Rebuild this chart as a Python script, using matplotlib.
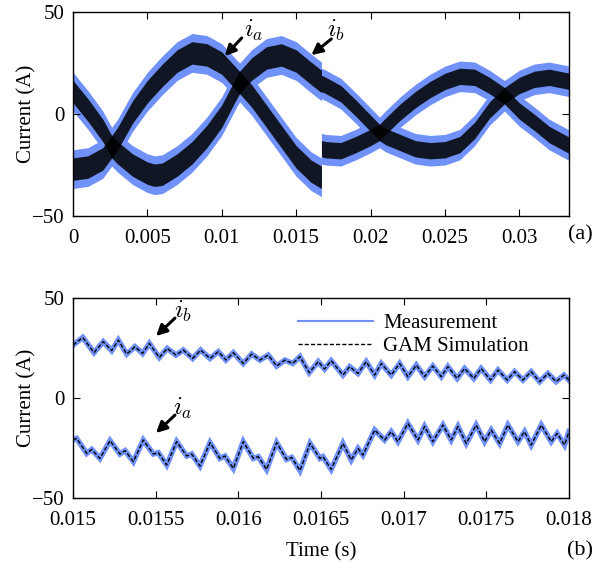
import matplotlib
matplotlib.use("Agg")
import matplotlib.pyplot as plt
from matplotlib.lines import Line2D

plt.rcParams['font.family'] = ['Liberation Serif', 'DejaVu Serif']
plt.rcParams['mathtext.fontset'] = 'cm'
plt.rcParams['font.size'] = 15

# ---- panel (a): full two-period view, ripple envelopes
t_top = [0, 0.001, 0.002, 0.0026, 0.003, 0.004, 0.005, 0.0055, 0.006, 0.007,
         0.008, 0.009, 0.010, 0.011, 0.0112, 0.012, 0.013, 0.014, 0.015, 0.016,
         0.0167, 0.0167, 0.017, 0.018, 0.019, 0.020, 0.0206, 0.021, 0.022, 0.023,
         0.024, 0.025, 0.026, 0.027, 0.028, 0.029, 0.030, 0.031, 0.032, 0.0334]
ia_top = [-27, -26, -22, -16, -12, 1, 11, 15, 19, 26,
          30, 29, 25, 17, 15.5, 9, -1, -11, -21, -28,
          -31, -17, -17.5, -18, -15, -11.5, -9, -6, 1, 7,
          12, 16, 18.5, 18, 14, 9, 1.5, -4, -10, -15.5]
ib_top = [11, 2, -8, -16, -19, -25, -29, -30, -29.5, -25,
          -19, -11, -1, 13, 15.5, 22, 27.5, 29, 26, 20,
          16, 15, 14, 10, 3, -4.5, -9, -11, -14, -17,
          -18, -17.5, -15, -8, 2, 9, 14, 17, 18, 16]
# ripple half widths (A): measurement and simulation
meas_hw = [9.5] * 21 + [7.5] * 19
sim_hw = [5.5] * 21 + [4.0] * 19

# ---- panel (b): zoom 0.015-0.018 s, ripple peaks/troughs of the simulation
ib_t = [0.015000, 0.015059, 0.015127, 0.015183, 0.015234, 0.015274, 0.015325, 0.015375, 0.015421, 0.015462,
        0.015522, 0.015570, 0.015623, 0.015667, 0.015724, 0.015772, 0.015829, 0.015879, 0.015925, 0.015970,
        0.016030, 0.016081, 0.016131, 0.016181, 0.016232, 0.016282, 0.016329, 0.016373, 0.016429, 0.016484,
        0.016522, 0.016562, 0.016633, 0.016674, 0.016724, 0.016774, 0.016825, 0.016865, 0.016925, 0.016976,
        0.017026, 0.017077, 0.017127, 0.017177, 0.017228, 0.017268, 0.017324, 0.017369, 0.017425, 0.017469,
        0.017526, 0.017571, 0.017627, 0.017672, 0.017722, 0.017772, 0.017823, 0.017873, 0.017923, 0.017970,
        0.018000]
ib_sim = [26.5, 30.3, 22.7, 28.2, 23.7, 29.0, 22.0, 25.7, 22.3, 27.3,
          20.3, 24.8, 21.5, 24.0, 19.8, 24.0, 19.8, 23.2, 19.0, 22.7,
          17.3, 22.0, 19.0, 21.5, 16.0, 19.0, 17.3, 20.7, 12.7, 18.2,
          14.5, 18.7, 11.5, 15.7, 12.3, 18.2, 11.5, 17.3, 11.5, 17.3,
          10.7, 16.5, 10.7, 16.0, 10.7, 15.7, 9.8, 14.8, 9.8, 14.8,
          9.0, 14.0, 9.0, 13.2, 9.0, 13.2, 8.2, 12.3, 8.2, 11.5,
          9.0]

ia_t = [0.015000, 0.015022, 0.015083, 0.015113, 0.015163, 0.015224, 0.015284, 0.015315, 0.015365, 0.015425,
        0.015486, 0.015516, 0.015567, 0.015627, 0.015688, 0.015718, 0.015768, 0.015829, 0.015889, 0.015919,
        0.015970, 0.016030, 0.016091, 0.016121, 0.016171, 0.016232, 0.016292, 0.016323, 0.016373, 0.016434,
        0.016494, 0.016512, 0.016562, 0.016633, 0.016683, 0.016724, 0.016754, 0.016825, 0.016885, 0.016925,
        0.016966, 0.017026, 0.017087, 0.017127, 0.017177, 0.017238, 0.017288, 0.017329, 0.017379, 0.017439,
        0.017490, 0.017530, 0.017581, 0.017631, 0.017692, 0.017732, 0.017772, 0.017833, 0.017893, 0.017929,
        0.017974, 0.018000]
ia_sim = [-21.0, -20.2, -27.7, -25.7, -30.2, -21.3, -28.0, -26.3, -31.8, -21.0,
          -28.0, -27.3, -33.5, -21.8, -29.0, -28.0, -34.0, -22.3, -30.2, -29.0,
          -35.2, -21.8, -30.2, -29.3, -35.7, -22.3, -30.7, -29.7, -36.3, -22.7,
          -30.2, -29.3, -35.7, -22.7, -31.0, -25.2, -28.5, -16.0, -21.0, -16.8,
          -21.8, -12.7, -21.0, -14.2, -21.8, -13.5, -21.0, -14.2, -22.7, -13.5,
          -21.8, -16.0, -22.7, -13.5, -21.8, -16.8, -23.5, -13.5, -21.8, -17.7,
          -23.5, -16.8]

top_xticks = [0, 0.005, 0.01, 0.015, 0.02, 0.025, 0.03]
top_xlabels = ['0', '0.005', '0.01', '0.015', '0.02', '0.025', '0.03']
bot_xticks = [0.015, 0.0155, 0.016, 0.0165, 0.017, 0.0175, 0.018]
bot_xlabels = ['0.015', '0.0155', '0.016', '0.0165', '0.017', '0.0175', '0.018']

blue = '#7091f7'
arrow = dict(arrowstyle='-|>', color='black', lw=2.2, mutation_scale=16,
             shrinkA=0, shrinkB=0)


def style(ax):
    ax.tick_params(direction='in', top=True, right=True, length=5, width=0.8)
    ax.tick_params(axis='x', pad=9)
    ax.tick_params(axis='y', pad=6)
    for s in ax.spines.values():
        s.set_linewidth(1.0)
    ax.set_ylim(-50, 50)
    ax.set_yticks([-50, 0, 50])
    ax.set_ylabel('Current (A)', labelpad=-3)


def label_arrow(ax, name, tip, tail, pos):
    ax.annotate('', xy=tip, xytext=tail, arrowprops=arrow)
    ax.text(pos[0], pos[1], name, fontsize=18, ha='center', va='center')


fig = plt.figure(figsize=(5.96, 5.68), dpi=100)
ax1 = fig.add_axes([0.1225, 0.6197, 0.832, 0.359])
ax2 = fig.add_axes([0.1225, 0.1232, 0.832, 0.352])

# panel (a)
for cur in (ia_top, ib_top):
    lo = [c - h for c, h in zip(cur, meas_hw)]
    hi = [c + h for c, h in zip(cur, meas_hw)]
    ax1.fill_between(t_top, lo, hi, color=blue, linewidth=0)
for cur in (ia_top, ib_top):
    lo = [c - h for c, h in zip(cur, sim_hw)]
    hi = [c + h for c, h in zip(cur, sim_hw)]
    ax1.fill_between(t_top, lo, hi, color='black', alpha=0.85, linewidth=0)
ax1.set_xlim(0, 1 / 30)
ax1.set_xticks(top_xticks)
ax1.set_xticklabels(top_xlabels)
style(ax1)
label_arrow(ax1, '$i_a$', (0.0102, 28.4), (0.01134, 37.3), (0.01215, 41))
label_arrow(ax1, '$i_b$', (0.01602, 28.9), (0.01736, 36.8), (0.01765, 41))

# panel (b)
ax2.plot(ib_t, ib_sim, color=blue, lw=4.0, solid_joinstyle='miter')
ax2.plot(ia_t, ia_sim, color=blue, lw=4.0, solid_joinstyle='miter')
ax2.plot(ib_t, ib_sim, color='black', lw=1.0, ls=(0, (3, 1.5)))
ax2.plot(ia_t, ia_sim, color='black', lw=1.0, ls=(0, (3, 1.5)))
ax2.set_xlim(0.015, 0.018)
ax2.set_xticks(bot_xticks)
ax2.set_xticklabels(bot_xlabels)
style(ax2)
ax2.set_xlabel('Time (s)', labelpad=9)
label_arrow(ax2, '$i_b$', (0.015502, 31), (0.015617, 40), (0.015665, 43.5))
label_arrow(ax2, '$i_a$', (0.015502, -17.5), (0.015617, -8.5), (0.015665, -5))

handles = [Line2D([], [], color=blue, lw=1.5),
           Line2D([], [], color='black', lw=1.0, ls=(0, (3, 1.5)))]
ax2.legend(handles, ['Measurement', 'GAM Simulation'], loc='upper right',
           bbox_to_anchor=(0.945, 0.985), frameon=False, handlelength=3.6,
           handletextpad=0.5, labelspacing=0.15, borderaxespad=0.2)

fig.text(0.973, 0.586, '(a)', ha='center', va='center', fontsize=16)
fig.text(0.973, 0.031, '(b)', ha='center', va='center', fontsize=16)

fig.savefig('out.png', dpi=100)
